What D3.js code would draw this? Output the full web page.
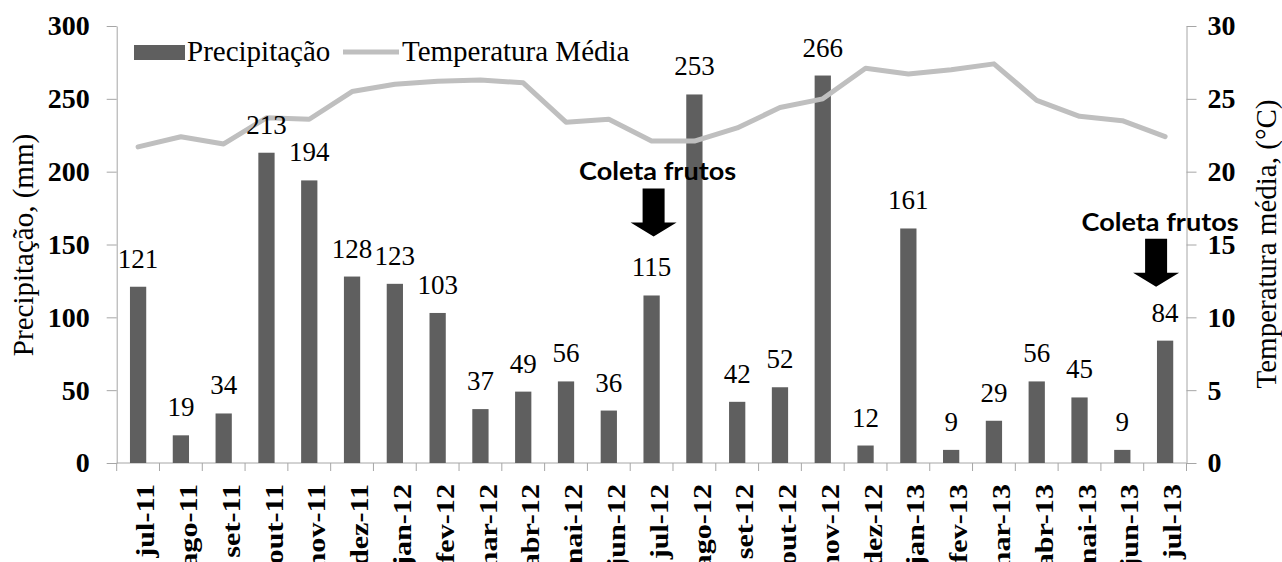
<!DOCTYPE html>
<html>
<head>
<meta charset="utf-8">
<script src="https://cdn.jsdelivr.net/npm/d3@7"></script>
<style>
  html, body { margin: 0; padding: 0; background: #ffffff; }
  svg { display: block; }
</style>
</head>
<body>
<script>
const categories = ["jul-11","ago-11","set-11","out-11","nov-11","dez-11","jan-12","fev-12","mar-12","abr-12","mai-12","jun-12","jul-12","ago-12","set-12","out-12","nov-12","dez-12","jan-13","fev-13","mar-13","abr-13","mai-13","jun-13","jul-13"];
const precipitation = [121,19,34,213,194,128,123,103,37,49,56,36,115,253,42,52,266,12,161,9,29,56,45,9,84];
const temperature = [21.7,22.4,21.9,23.7,23.6,25.5,26.0,26.2,26.3,26.1,23.4,23.6,22.1,22.1,23.0,24.4,25.0,27.1,26.7,27.0,27.4,24.9,23.8,23.5,22.4];
const precipTicks = [0,50,100,150,200,250,300];
const tempTicks = [0,5,10,15,20,25,30];
const seriesNames = ["Precipitação","Temperatura Média"];
const leftTitle = "Precipitação, (mm)";
const rightTitle = "Temperatura média, (°C)";
const annotationCats = ["jul-12","jul-13"];
const annotationText = "Coleta frutos";

const W = 1282, H = 562;
const plot = { left: 116.7, right: 1186.5, top: 26, bottom: 463 };
const barColor = "#5f5f5f", lineColor = "#bfbfbf", axisColor = "#a6a6a6";

const svg = d3.select("body").append("svg").attr("width", W).attr("height", H);

// pick an installed font by measuring against monospace
function pickFont(cands, fallback) {
  const t = svg.append("text").style("font-size", "40px").text("Precipitação 0123 Wmil");
  t.style("font-family", "monospace");
  const base = t.node().getComputedTextLength();
  let chosen = fallback;
  for (const c of cands) {
    t.style("font-family", `"${c}", monospace`);
    const w = t.node().getComputedTextLength();
    if (Math.abs(w - base) > 0.5) { chosen = `"${c}"`; break; }
  }
  t.remove();
  return chosen;
}
const serif = pickFont(["Liberation Serif", "Times New Roman", "Tinos", "Times", "DejaVu Serif", "Noto Serif"], "serif");
const sans = pickFont(["Lato", "Open Sans", "Noto Sans", "Liberation Sans"], "sans-serif");

const x = d3.scaleBand().domain(categories).range([plot.left, plot.right])
  .paddingInner(0.62).paddingOuter(0.31);
const step = x.step();
const cx = c => x(c) + x.bandwidth() / 2;
const yL = d3.scaleLinear().domain([0, 300]).range([plot.bottom, plot.top]);
const yR = d3.scaleLinear().domain([0, 30]).range([plot.bottom, plot.top]);

// Left axis
const gL = svg.append("g").attr("transform", `translate(${plot.left},0)`)
  .call(d3.axisLeft(yL).tickValues(precipTicks).tickSize(10).tickPadding(17).tickSizeOuter(0));
// Right axis
const gR = svg.append("g").attr("transform", `translate(${plot.right},0)`)
  .call(d3.axisRight(yR).tickValues(tempTicks).tickSize(10).tickPadding(11).tickSizeOuter(0));
[gL, gR].forEach(g => {
  g.select(".domain").attr("stroke", axisColor);
  g.selectAll(".tick line").attr("stroke", axisColor);
  g.selectAll(".tick text").attr("fill", "#000").style("font-family", serif)
    .style("font-size", "28px").style("font-weight", "bold");
});

// X axis: line + ticks at band boundaries
const gX = svg.append("g");
gX.append("line").attr("x1", plot.left).attr("x2", plot.right)
  .attr("y1", yL(0)).attr("y2", yL(0)).attr("stroke", axisColor);
const boundaries = categories.map(c => x(c) - x.paddingInner() * step / 2).concat([plot.right]);
gX.selectAll("line.tk").data(boundaries).join("line").attr("class", "tk")
  .attr("x1", d => d).attr("x2", d => d).attr("y1", yL(0)).attr("y2", yL(0) + 8)
  .attr("stroke", axisColor);
gX.selectAll("text.xl").data(categories).join("text").attr("class", "xl")
  .attr("transform", d => `translate(${cx(d)},${yL(0) + 21}) rotate(-90) scale(1.16,1)`)
  .attr("text-anchor", "end").attr("dy", "0.62em")
  .style("font-family", serif).style("font-size", "26px").style("font-weight", "bold")
  .text(d => d);

// Bars
svg.append("g").selectAll("rect").data(categories).join("rect")
  .attr("x", d => x(d)).attr("width", x.bandwidth())
  .attr("y", (d, i) => yL(precipitation[i]))
  .attr("height", (d, i) => yL(0) - yL(precipitation[i]))
  .attr("fill", barColor);

// Temperature line
const line = d3.line().x((d, i) => cx(categories[i])).y(d => yR(d));
svg.append("path").datum(temperature).attr("d", line)
  .attr("fill", "none").attr("stroke", lineColor).attr("stroke-width", 5)
  .attr("stroke-linejoin", "round").attr("stroke-linecap", "round");

// Bar value labels
svg.append("g").selectAll("text").data(categories).join("text")
  .attr("x", d => cx(d)).attr("y", (d, i) => yL(precipitation[i]) - 19)
  .attr("text-anchor", "middle")
  .style("font-family", serif).style("font-size", "27px").attr("fill", "#000")
  .text((d, i) => precipitation[i]);

// Axis titles
svg.append("text").attr("transform", `translate(33,245) rotate(-90)`)
  .attr("text-anchor", "middle").style("font-family", serif).style("font-size", "29px")
  .text(leftTitle);
svg.append("text").attr("transform", `translate(1276,244) rotate(-90)`)
  .attr("text-anchor", "middle").style("font-family", serif).style("font-size", "29px")
  .text(rightTitle);

// Legend
const lg = svg.append("g");
lg.append("rect").attr("x", 134).attr("y", 45).attr("width", 51).attr("height", 15).attr("fill", barColor);
lg.append("text").attr("x", 187).attr("y", 61).style("font-family", serif).style("font-size", "29px").text(seriesNames[0]);
lg.append("line").attr("x1", 343).attr("x2", 399).attr("y1", 52).attr("y2", 52)
  .attr("stroke", lineColor).attr("stroke-width", 5);
lg.append("text").attr("x", 402).attr("y", 61).style("font-family", serif).style("font-size", "29px").text(seriesNames[1]);

// Annotations
const ann = svg.append("g");
annotationCats.forEach((c, k) => {
  const i = categories.indexOf(c);
  const ax = cx(c) + (k === 0 ? 2 : -9);
  const tip = yL(precipitation[i]) - (k === 0 ? 59 : 54);
  const p = d3.path();
  p.moveTo(ax - 11, tip - 48); p.lineTo(ax + 11, tip - 48); p.lineTo(ax + 11, tip - 14);
  p.lineTo(ax + 23, tip - 14); p.lineTo(ax, tip); p.lineTo(ax - 23, tip - 14);
  p.lineTo(ax - 11, tip - 14); p.closePath();
  ann.append("path").attr("d", p.toString()).attr("fill", "#000");
  ann.append("text").attr("x", ax + 4).attr("y", tip - 56).attr("text-anchor", "middle")
    .style("font-family", sans).style("font-size", "24px")
    .style("font-weight", "bold").attr("textLength", 157).attr("lengthAdjust", "spacingAndGlyphs")
    .text(annotationText);
});
</script>
</body>
</html>
